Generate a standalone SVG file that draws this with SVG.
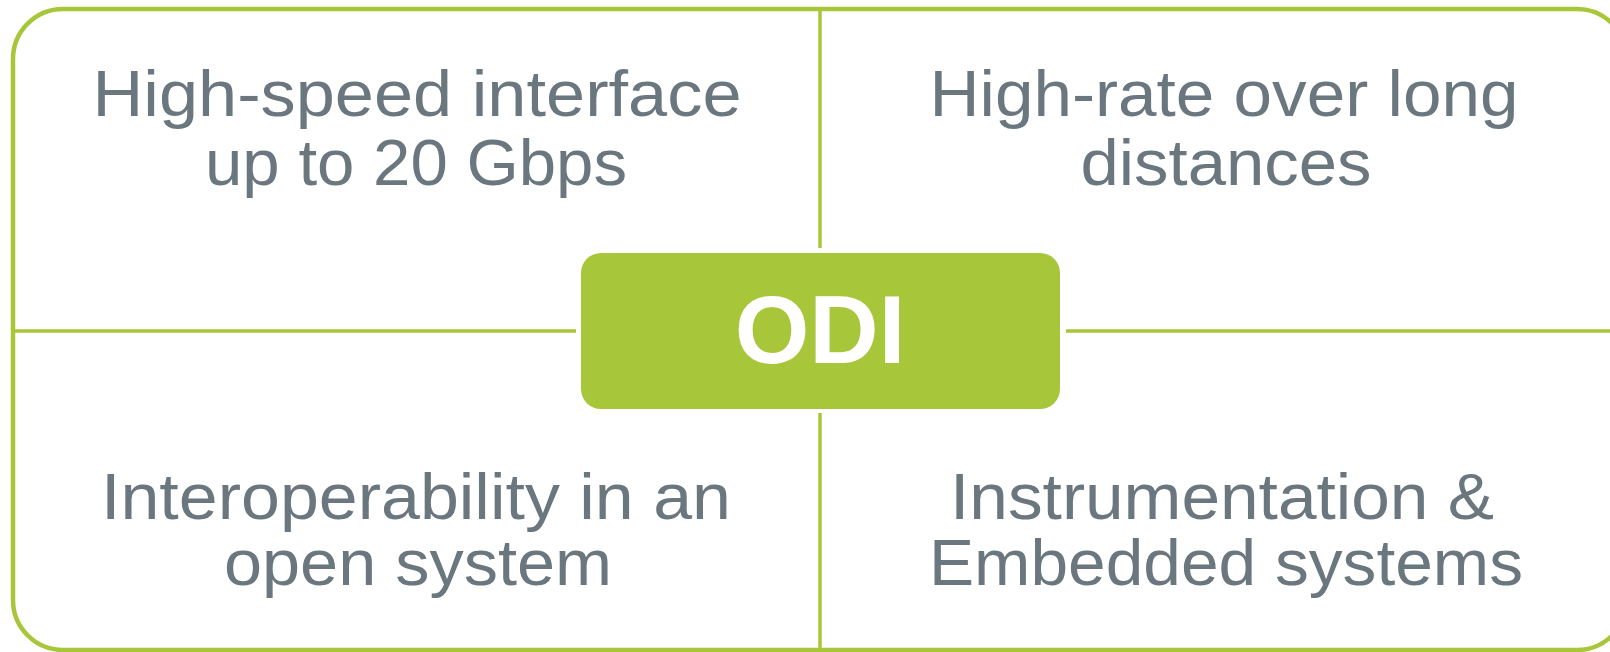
<svg xmlns="http://www.w3.org/2000/svg" width="1610" height="652" viewBox="0 0 1610 652">
<style>
.frame{fill:none;stroke:#a8c63a;stroke-width:4.5}
.div{stroke:#a8c63a;stroke-width:3.5;fill:none}
.lbl{font-family:"Liberation Sans",Arial,sans-serif;font-size:64px;fill:#6b777e;text-anchor:middle}
.odi{font-family:"Liberation Sans",Arial,sans-serif;font-size:96px;font-weight:bold;fill:#ffffff;text-anchor:middle}
</style>
<rect width="1610" height="652" fill="#ffffff"/>
<rect class="frame" x="13" y="9" width="1614" height="641" rx="50" ry="50"/>
<g id="connectors">
<line class="div" x1="13" y1="331" x2="576" y2="331"/>
<line class="div" x1="1066" y1="331" x2="1627" y2="331"/>
<line class="div" x1="820" y1="9" x2="820" y2="248"/>
<line class="div" x1="820" y1="413" x2="820" y2="650"/>
</g>
<g id="q1">
<text class="lbl" x="417" y="116" textLength="649" lengthAdjust="spacingAndGlyphs">High-speed interface</text>
<text class="lbl" x="416" y="185" textLength="422" lengthAdjust="spacingAndGlyphs">up to 20 Gbps</text>
</g>
<g id="q2">
<text class="lbl" x="1224" y="116" textLength="589" lengthAdjust="spacingAndGlyphs">High-rate over long</text>
<text class="lbl" x="1226" y="185" textLength="291" lengthAdjust="spacingAndGlyphs">distances</text>
</g>
<g id="q3">
<text class="lbl" x="416" y="519" textLength="630" lengthAdjust="spacingAndGlyphs">Interoperability in an</text>
<text class="lbl" x="418" y="585" textLength="388" lengthAdjust="spacingAndGlyphs">open system</text>
</g>
<g id="q4">
<text class="lbl" x="1222" y="519" textLength="544" lengthAdjust="spacingAndGlyphs">Instrumentation &amp;</text>
<text class="lbl" x="1226" y="585" textLength="594" lengthAdjust="spacingAndGlyphs">Embedded systems</text>
</g>
<g id="odi">
<rect x="581" y="253" width="479" height="156" rx="20" ry="20" fill="#a8c63a"/>
<text class="odi" x="820" y="363">ODI</text>
</g>
</svg>
